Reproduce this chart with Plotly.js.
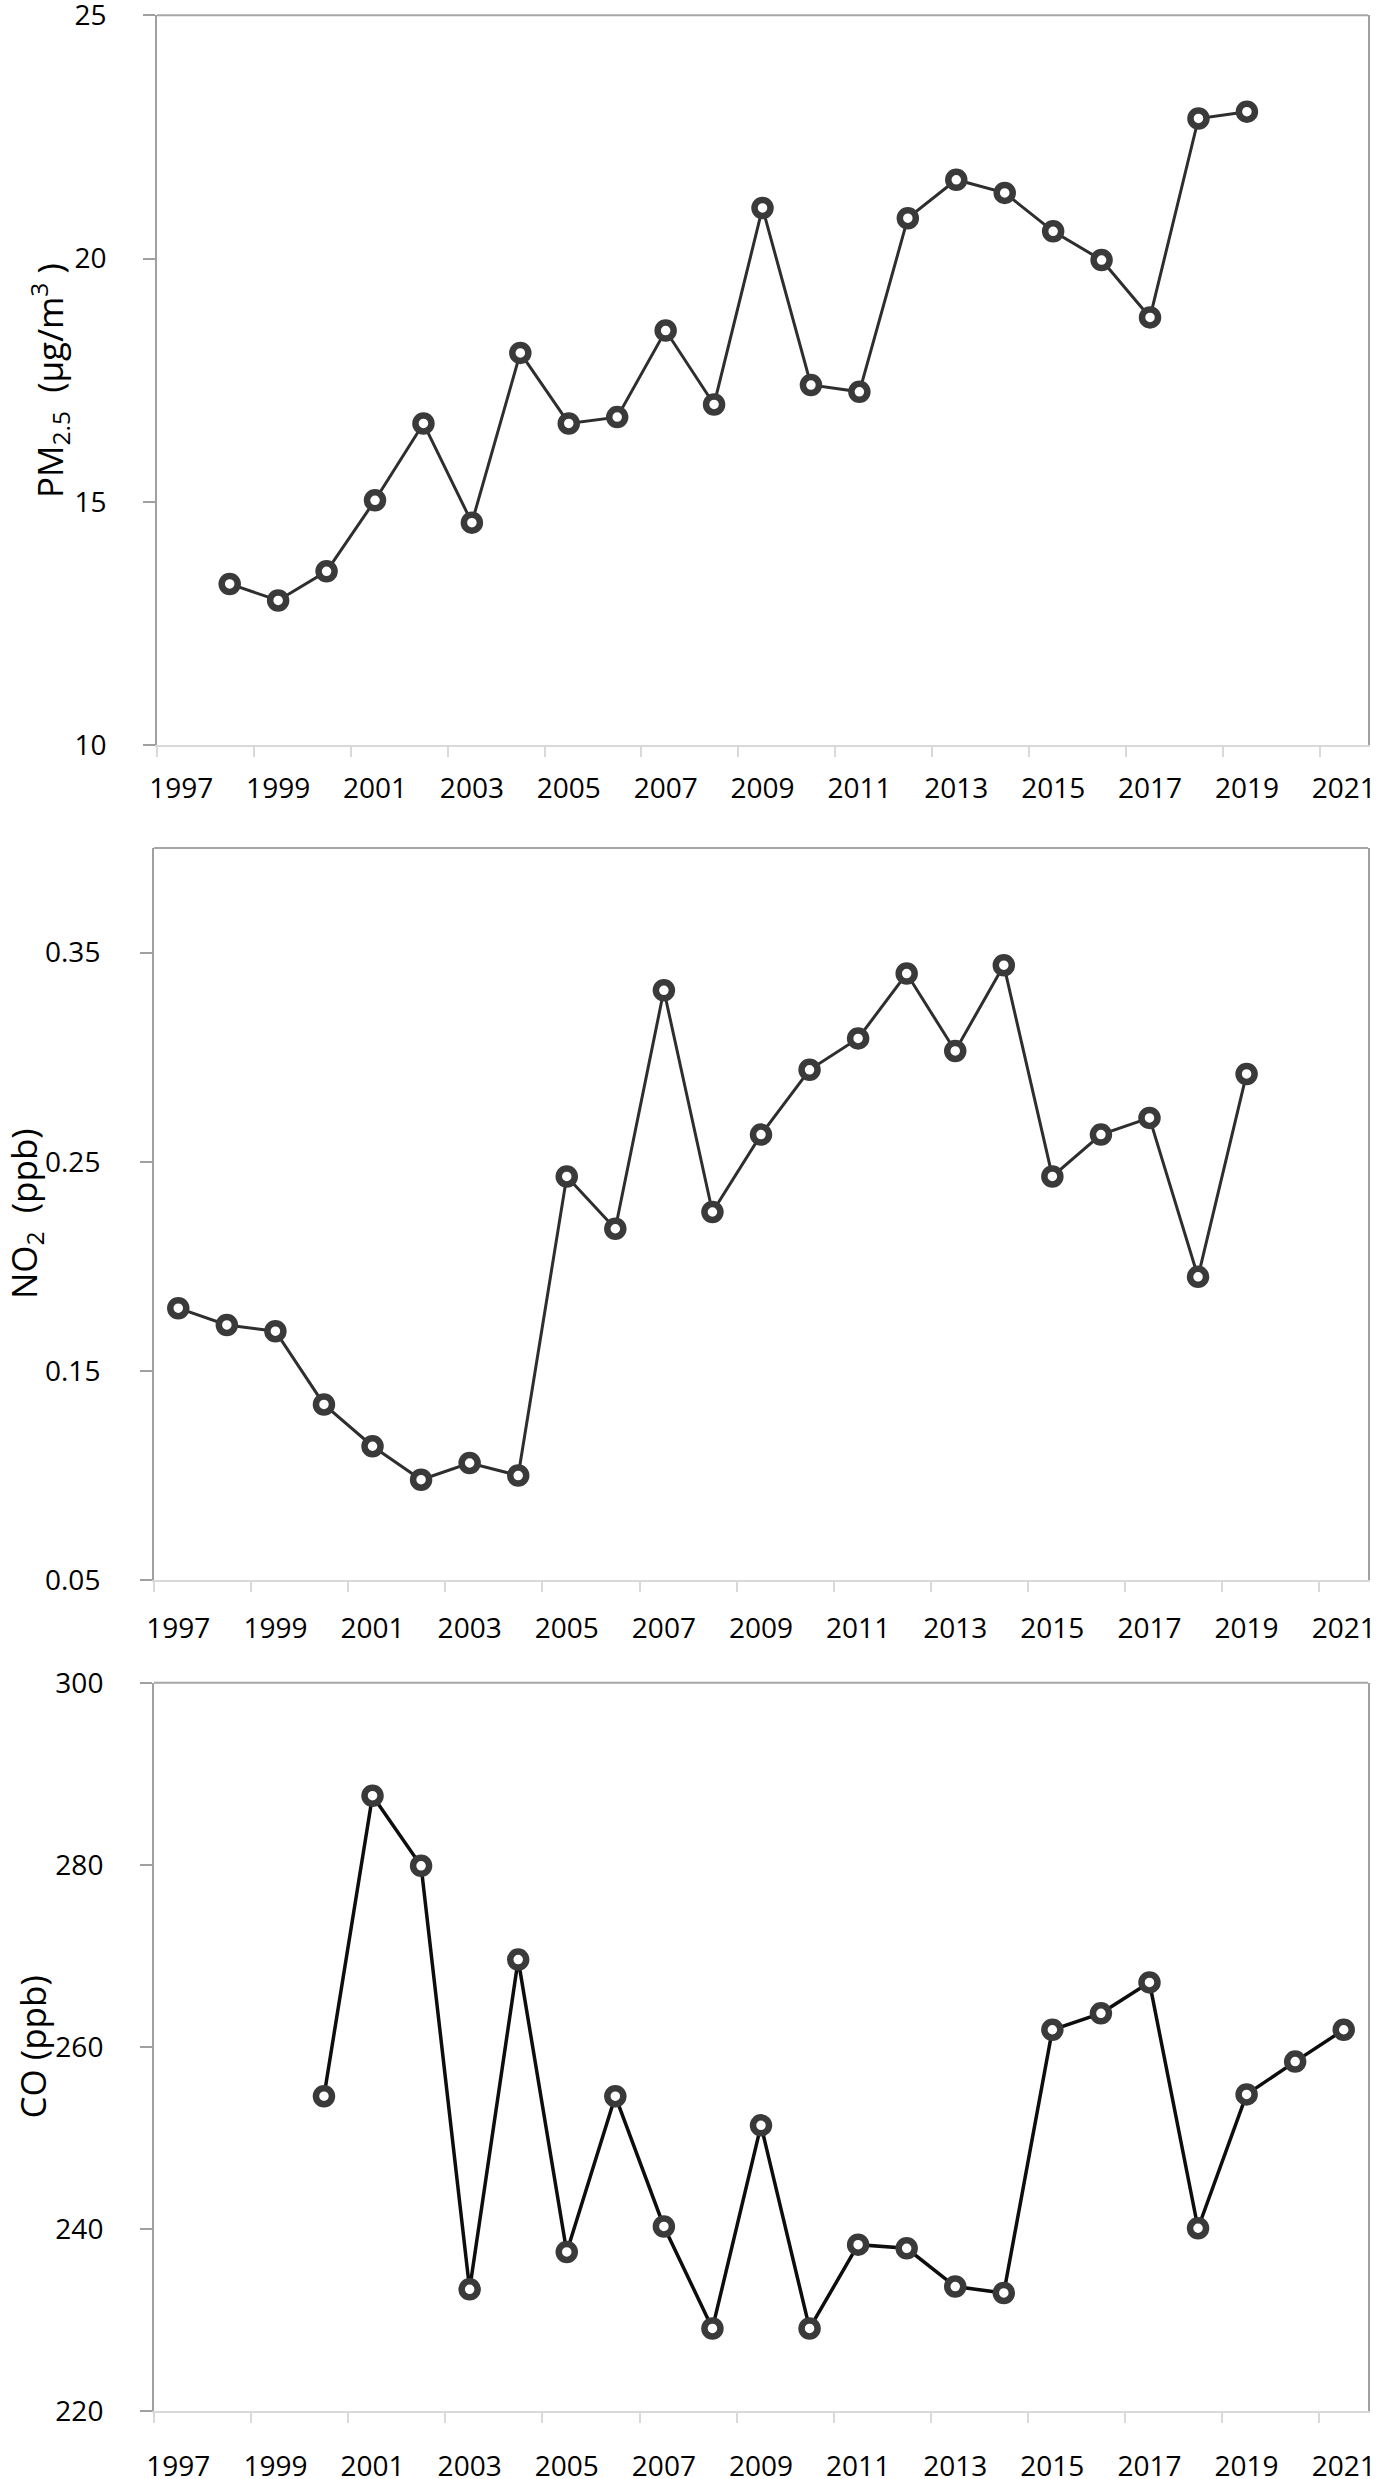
<!DOCTYPE html>
<html>
<head>
<meta charset="utf-8">
<script src="https://cdn.plot.ly/plotly-3.0.1.min.js"></script>
<style>
  html, body { margin: 0; padding: 0; background: #fff; }
  #chart { width: 1380px; height: 2479px; }
</style>
</head>
<body>
<div id="chart"></div>
<script>
// Annual values
const pmYears = [1998, 1999, 2000, 2001, 2002, 2003, 2004, 2005, 2006, 2007, 2008,
                 2009, 2010, 2011, 2012, 2013, 2014, 2015, 2016, 2017, 2018, 2019];
const pmValues = [13.31, 12.97, 13.57, 15.03, 16.61, 14.57, 18.06, 16.61, 16.74, 18.52, 17.0,
                  21.04, 17.40, 17.26, 20.83, 21.62, 21.35, 20.56, 19.97, 18.79, 22.88, 23.02];

const no2Years = [1997, 1998, 1999, 2000, 2001, 2002, 2003, 2004, 2005, 2006, 2007, 2008,
                  2009, 2010, 2011, 2012, 2013, 2014, 2015, 2016, 2017, 2018, 2019];
const no2Values = [0.180, 0.172, 0.169, 0.134, 0.114, 0.098, 0.106, 0.100, 0.243, 0.218, 0.332, 0.226,
                   0.263, 0.294, 0.309, 0.340, 0.303, 0.344, 0.243, 0.263, 0.271, 0.195, 0.292];

const coYears = [2000, 2001, 2002, 2003, 2004, 2005, 2006, 2007, 2008, 2009, 2010,
                 2011, 2012, 2013, 2014, 2015, 2016, 2017, 2018, 2019, 2020, 2021];
const coValues = [254.6, 287.6, 279.9, 233.4, 269.6, 237.5, 254.6, 240.3, 229.1, 251.4, 229.1,
                  238.3, 237.9, 233.7, 233.0, 261.9, 263.7, 267.1, 240.1, 254.8, 258.4, 261.9];

const yearLabels = ['1997', '1999', '2001', '2003', '2005', '2007', '2009',
                    '2011', '2013', '2015', '2017', '2019', '2021'];
const pmTicks = [10, 15, 20, 25];
const no2Ticks = [0.05, 0.15, 0.25, 0.35];
const no2TickText = ['0.05', '0.15', '0.25', '0.35'];
const coTicks = [220, 240, 260, 280, 300];

const FONT = 'Open Sans, sans-serif';
const tickFont = { family: FONT, size: 28, color: '#000' };

function lineTrace(x, y, n, lineColor, lineWidth) {
    return {
        x: x, y: y,
        xaxis: 'x' + (n > 1 ? n : ''),
        yaxis: 'y' + (n > 1 ? n : ''),
        type: 'scatter',
        mode: 'lines+markers',
        line: { color: lineColor, width: lineWidth },
        marker: { symbol: 'circle', size: 16, color: '#ffffff', line: { color: '#3a3a3a', width: 6.5 } },
        cliponaxis: false,
        showlegend: false,
        hoverinfo: 'x+y'
    };
}

// Excel-like category axis: labels in the middle of a year, tick marks between years
function xAxis(domain, anchor, standoff) {
    return {
        domain: domain,
        anchor: anchor,
        range: [1996.5, 2021.5],
        tickmode: 'array',
        tickvals: yearLabels.map(Number),
        ticktext: yearLabels,
        ticks: 'outside',
        ticklen: 0,
        tickcolor: 'rgba(0,0,0,0)',
        ticklabelstandoff: standoff,
        ticklabeloverflow: 'allow',
        tickfont: tickFont,
        minor: {
            tickmode: 'array',
            tickvals: yearLabels.map(y => Number(y) - 0.5),
            ticks: 'outside',
            ticklen: 10,
            tickwidth: 2,
            tickcolor: '#d9d9d9',
            showgrid: false
        },
        showline: true,
        linecolor: '#d9d9d9',
        linewidth: 2,
        showgrid: false,
        zeroline: false,
        fixedrange: true
    };
}

function yAxis(domain, anchor, range, vals, text, standoff) {
    return {
        domain: domain,
        anchor: anchor,
        range: range,
        tickmode: 'array',
        tickvals: vals,
        ticktext: text,
        ticks: 'outside',
        ticklen: 12,
        tickwidth: 2,
        tickcolor: '#a0a0a0',
        ticklabelstandoff: standoff,
        ticklabeloverflow: 'allow',
        tickfont: tickFont,
        showline: true,
        mirror: true,
        linecolor: '#a0a0a0',
        linewidth: 2,
        showgrid: false,
        zeroline: false,
        fixedrange: true
    };
}

function topBorder(n) {
    const s = n > 1 ? n : '';
    return {
        type: 'line', xref: 'x' + s + ' domain', yref: 'y' + s + ' domain',
        x0: 0, x1: 1, y0: 1, y1: 1,
        line: { color: '#a6a6a6', width: 2 }
    };
}

function yTitle(text, x, y) {
    return {
        text: text, xref: 'paper', yref: 'paper', x: x, y: y,
        xanchor: 'center', yanchor: 'middle', textangle: -90,
        showarrow: false, font: { family: FONT, size: 35, color: '#000' }
    };
}

const data = [
    lineTrace(pmYears, pmValues, 1, '#2e2e2e', 3),
    lineTrace(no2Years, no2Values, 2, '#2e2e2e', 3),
    lineTrace(coYears, coValues, 3, '#0d0d0d', 3.5)
];

const layout = {
    width: 1380,
    height: 2479,
    margin: { l: 154, r: 12, t: 0, b: 0 },
    paper_bgcolor: '#ffffff',
    plot_bgcolor: '#ffffff',
    font: { family: FONT, color: '#000' },
    xaxis: xAxis([0.0025, 1], 'y', 17),
    yaxis: yAxis([0.6995, 0.9938], 'x', [10, 25], pmTicks, pmTicks.map(String), 31),
    xaxis2: xAxis([0, 1], 'y2', 22),
    yaxis2: yAxis([0.3626, 0.6579], 'x2', [0.05, 0.40], no2Ticks, no2TickText, 34),
    xaxis3: xAxis([0, 1], 'y3', 29),
    yaxis3: yAxis([0.0273, 0.3212], 'x3', [220, 300], coTicks, coTicks.map(String), 31),
    shapes: [topBorder(1), topBorder(2), topBorder(3)],
    annotations: [
        yTitle('PM<sub>2.5</sub>\u00a0 (µg/m<sup>3</sup> )', -0.0865, 0.8467),
        yTitle('NO<sub>2</sub>\u00a0 (ppb)', -0.1054, 0.5103),
        yTitle('CO (ppb)', -0.1000, 0.1743)
    ]
};

Plotly.newPlot('chart', data, layout, { displayModeBar: false, staticPlot: true });
</script>
</body>
</html>
